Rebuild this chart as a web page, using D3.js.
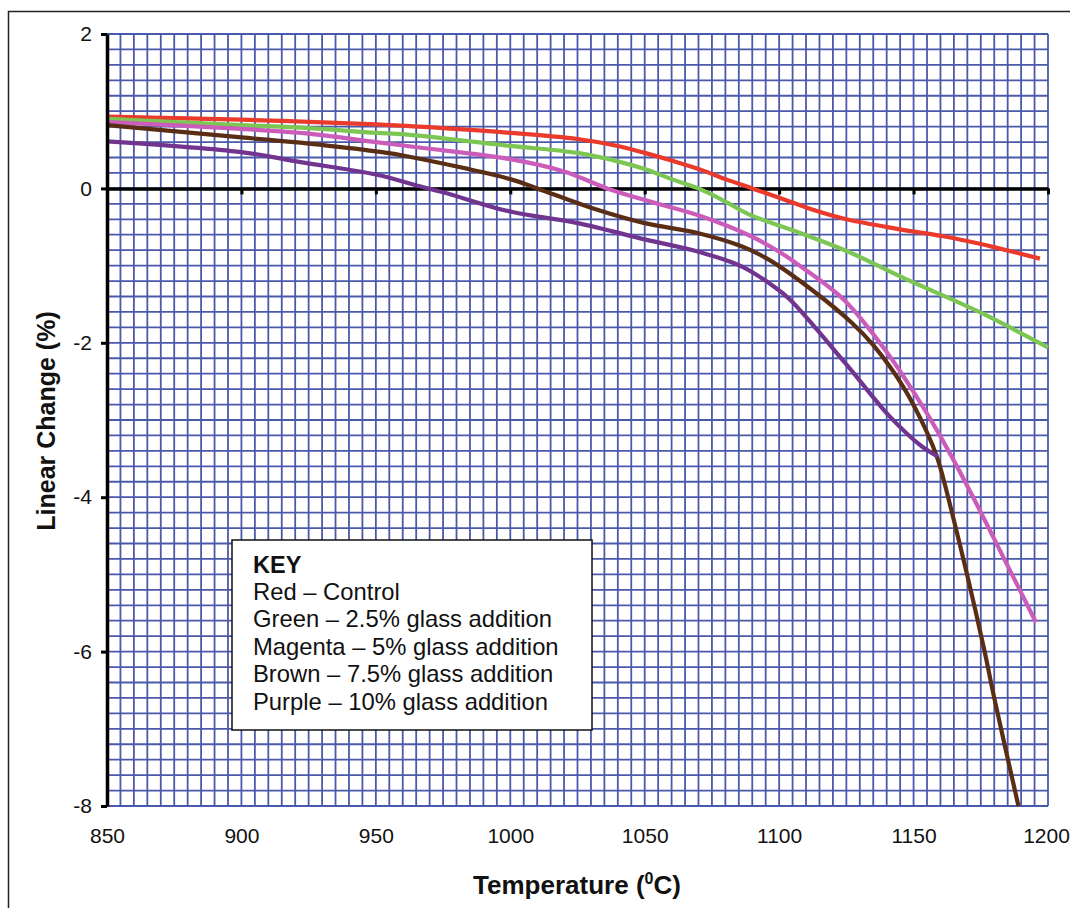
<!DOCTYPE html>
<html lang="en">
<head>
  <meta charset="utf-8">
  <title>linear change</title>
  <style>
  body { margin:0; padding:0; background:#fff; }
  svg text { font-family: "Liberation Sans", Arial, sans-serif; fill:#111; }
  .grid line { stroke:#4b59aa; stroke-width:1.8px; }
  </style>
  <script src="https://d3js.org/d3.v7.min.js"></script>
</head>
<body>
  <div id="chart"></div>
  <script type="text/javascript">
    // temperatures (degC) and linear change (%)
    var redT    = [850, 900, 950, 966, 1000, 1025, 1040, 1050, 1060, 1071, 1080, 1090, 1100, 1112, 1125, 1145, 1161, 1175, 1181, 1197];
    var redV    = [0.93, 0.89, 0.83, 0.80, 0.72, 0.64, 0.55, 0.46, 0.36, 0.24, 0.12, 0.0, -0.12, -0.27, -0.40, -0.53, -0.62, -0.72, -0.77, -0.91];

    var greenT  = [850, 900, 925, 950, 961, 1000, 1025, 1040, 1050, 1060, 1070, 1080, 1089, 1108, 1127, 1145, 1175, 1200];
    var greenV  = [0.90, 0.82, 0.78, 0.72, 0.70, 0.55, 0.46, 0.35, 0.25, 0.12, 0.0, -0.17, -0.34, -0.58, -0.84, -1.14, -1.61, -2.06];

    var magentaT = [850, 900, 925, 950, 966, 1000, 1020, 1036, 1050, 1071, 1089, 1100, 1108, 1124, 1140, 1154, 1163, 1172, 1185, 1195.5];
    var magentaV = [0.86, 0.77, 0.71, 0.60, 0.53, 0.38, 0.22, 0.0, -0.15, -0.36, -0.61, -0.82, -1.01, -1.44, -2.12, -2.86, -3.40, -3.99, -4.89, -5.62];

    var brownT  = [850, 900, 925, 950, 961, 1000, 1010, 1030, 1050, 1070, 1086, 1096, 1112, 1127, 1135, 1146, 1155, 1159, 1164, 1176, 1180, 1189];
    var brownV  = [0.82, 0.66, 0.58, 0.48, 0.42, 0.12, 0.0, -0.25, -0.45, -0.58, -0.75, -0.92, -1.31, -1.74, -2.03, -2.56, -3.16, -3.51, -4.16, -5.93, -6.60, -8.0];

    var purpleT = [850, 900, 922, 950, 966, 975, 1000, 1025, 1050, 1071, 1086, 1098, 1104, 1125, 1141, 1153, 1159];
    var purpleV = [0.61, 0.47, 0.34, 0.18, 0.03, -0.05, -0.30, -0.45, -0.66, -0.83, -1.01, -1.27, -1.44, -2.28, -2.95, -3.34, -3.47];

    var seriesNames  = ["Red", "Green", "Magenta", "Brown", "Purple"];
    var seriesColors = ["#ea3a2b", "#7dc653", "#cb5cba", "#5a2e14", "#71358f"];
    var keyLines = ["Red \u2013 Control", "Green \u2013 2.5% glass addition", "Magenta \u2013 5% glass addition",
                    "Brown \u2013 7.5% glass addition", "Purple \u2013 10% glass addition"];

    var xTicks = [850, 900, 950, 1000, 1050, 1100, 1150, 1200];
    var yTicks = [-8, -6, -4, -2, 0, 2];

    var W = 1070, H = 908;
    var plotL = 107, plotR = 1048, plotT = 34, plotB = 806;

    var svg = d3.select("#chart").append("svg")
      .attr("width", W).attr("height", H);

    // frame round the figure (top and left edge only visible)
    svg.append("path")
      .attr("d", "M8.5," + H + "V11.5H" + W)
      .attr("fill", "none").attr("stroke", "#222").attr("stroke-width", 1.5);

    var x = d3.scaleLinear().domain([850, 1200]).range([plotL, plotR]);
    var y = d3.scaleLinear().domain([-8, 2]).range([plotB, plotT]);

    // graph paper grid: every 5 degC and every 0.2 %
    var grid = svg.append("g").attr("class", "grid");
    grid.selectAll("line.v").data(d3.range(850, 1200.1, 5)).join("line")
      .attr("class", "v")
      .attr("x1", function(d) { return x(d); }).attr("x2", function(d) { return x(d); })
      .attr("y1", plotT).attr("y2", plotB);
    grid.selectAll("line.h").data(d3.range(0, 51).map(function(i) { return -8 + i * 0.2; })).join("line")
      .attr("class", "h")
      .attr("y1", function(d) { return y(d); }).attr("y2", function(d) { return y(d); })
      .attr("x1", plotL).attr("x2", plotR);

    // zero line with ticks
    var zeroAxis = d3.axisBottom(x).tickValues(xTicks).tickSize(6).tickFormat("").tickSizeOuter(0);
    var zg = svg.append("g").attr("transform", "translate(0," + y(0) + ")").call(zeroAxis);
    zg.select(".domain").attr("stroke", "#000").attr("stroke-width", 3.5);
    zg.selectAll(".tick line").attr("stroke", "#000").attr("stroke-width", 3);
    zg.selectAll(".tick").filter(function(d) { return d === 850; }).remove();

    // series
    var allT = [redT, greenT, magentaT, brownT, purpleT];
    var allV = [redV, greenV, magentaV, brownV, purpleV];
    var lineGen = d3.line()
      .x(function(d) { return x(d[0]); })
      .y(function(d) { return y(d[1]); })
      .curve(d3.curveCatmullRom.alpha(0.5));

    for (var i = 0; i < allT.length; i++) {
      var pts = allT[i].map(function(t, j) { return [t, allV[i][j]]; });
      svg.append("path")
        .datum(pts)
        .attr("class", "series " + seriesNames[i])
        .attr("fill", "none")
        .attr("stroke", seriesColors[i])
        .attr("stroke-width", 4.2)
        .attr("stroke-linejoin", "round")
        .attr("d", lineGen);
    }

    // y axis
    var yAxis = d3.axisLeft(y).tickValues(yTicks).tickSize(6).tickPadding(9).tickSizeOuter(0)
      .tickFormat(function(d) { return String(d); });
    var yg = svg.append("g").attr("transform", "translate(" + plotL + ",0)").call(yAxis);
    yg.select(".domain").attr("stroke", "#000").attr("stroke-width", 3.5);
    yg.selectAll(".tick line").attr("stroke", "#000").attr("stroke-width", 3);
    yg.selectAll(".tick text").style("font-size", "21px").attr("fill", "#111");

    // x tick labels below the plot
    var xAxis = d3.axisBottom(x).tickValues(xTicks).tickSize(0).tickPadding(22)
      .tickFormat(function(d) { return String(d); });
    var xg = svg.append("g").attr("transform", "translate(0," + plotB + ")").call(xAxis);
    xg.select(".domain").remove();
    xg.selectAll(".tick text").style("font-size", "21px").attr("fill", "#111");
    xg.selectAll(".tick").filter(function(d) { return d === 1200; }).select("text").attr("dx", -2);

    // axis titles
    var xt = svg.append("text")
      .attr("x", 577).attr("y", 894)
      .attr("text-anchor", "middle")
      .style("font-size", "26px").style("font-weight", "bold");
    xt.append("tspan").text("Temperature (");
    xt.append("tspan").text("0").attr("dy", -10).style("font-size", "16px");
    xt.append("tspan").text("C)").attr("dy", 10);

    svg.append("text")
      .attr("transform", "translate(55,421) rotate(-90)")
      .attr("text-anchor", "middle")
      .style("font-size", "25px").style("font-weight", "bold")
      .text("Linear Change (%)");

    // key box
    var key = svg.append("g").attr("transform", "translate(232,540)");
    key.append("rect")
      .attr("width", 360).attr("height", 190)
      .attr("fill", "#fff").attr("stroke", "#111").attr("stroke-width", 1.5);
    key.append("text").attr("x", 21).attr("y", 33)
      .style("font-size", "23.5px").style("font-weight", "bold").text("KEY");
    key.selectAll("text.k").data(keyLines).join("text")
      .attr("class", "k")
      .attr("x", 21)
      .attr("y", function(d, i) { return 60 + i * 27.4; })
      .style("font-size", "23.8px")
      .text(function(d) { return d; });
  </script>
</body>
</html>
